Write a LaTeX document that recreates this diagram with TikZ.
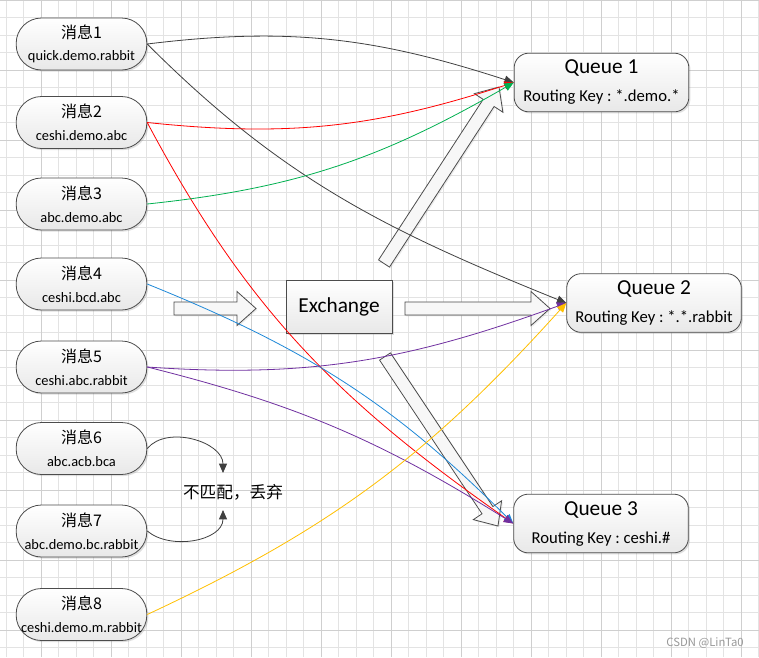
\documentclass[tikz,border=0pt]{standalone}
\usepackage{fontspec}
\setmainfont{Carlito}
\newfontfamily\cjk{Noto Sans CJK SC}
\usepackage{xcolor}
\usetikzlibrary{arrows.meta, positioning, calc, shadows}
\definecolor{linegray}{HTML}{404040}
\definecolor{linered}{HTML}{FF0000}
\definecolor{linegreen}{HTML}{00B050}
\definecolor{lineblue}{HTML}{1E88D8}
\definecolor{linepurple}{HTML}{7030A0}
\definecolor{lineorange}{HTML}{FFC000}
\definecolor{gridminor}{HTML}{E3E3E3}
\definecolor{gridmajor}{HTML}{CFCFCF}
\frenchspacing

\newcommand{\hollowarrow}[2]{%
    \coordinate (#1h) at ($(#2)!14.25pt!(#1)$);
    \draw[bigarrow] ($(#1)!4.9pt!90:(#2)$) -- ($(#1h)!4.9pt!-90:(#1)$)
        -- ($(#1h)!12.75pt!-90:(#1)$) -- (#2) -- ($(#1h)!12.75pt!90:(#1)$)
        -- ($(#1h)!4.9pt!90:(#1)$) -- ($(#1)!4.9pt!-90:(#2)$) -- cycle;}

\begin{document}
\begin{tikzpicture}[x=0.75pt, y=-0.75pt,
    msg/.style={rectangle, rounded corners=19pt, draw=black!70, line width=0.6pt,
        top color=white, bottom color=black!9, minimum width=98pt, minimum height=39pt,
        align=center, inner sep=0pt, font=\fontsize{10.8}{17}\selectfont,
        drop shadow={shadow xshift=1.2pt, shadow yshift=-1.2pt, opacity=0.25}},
    queue/.style={rectangle, rounded corners=11pt, draw=black!70, line width=0.6pt,
        top color=white, bottom color=black!9, minimum width=131pt, minimum height=44pt,
        align=center, inner sep=0pt, font=\fontsize{12.5}{21}\selectfont,
        drop shadow={shadow xshift=1.2pt, shadow yshift=-1.2pt, opacity=0.25}},
    exch/.style={rectangle, draw=black!70, line width=0.6pt, top color=white,
        bottom color=black!9, minimum width=79.5pt, minimum height=39.75pt,
        font=\fontsize{16}{19}\selectfont,
        drop shadow={shadow xshift=1.2pt, shadow yshift=-1.2pt, opacity=0.25}},
    conn/.style={line width=0.6pt, -{Triangle[length=7pt, width=6pt]}},
    bigarrow/.style={draw=black!70, fill=black!3, line width=0.6pt,
        drop shadow={shadow xshift=1pt, shadow yshift=-1pt, opacity=0.15}}]
    \fill[white] (0,0) rectangle (759,657);
    \useasboundingbox (0,0) rectangle (759,657);
    \foreach \k in {0,...,43}
        \draw[gridminor, line width=0.6pt] (6.3+17.5*\k,0) -- (6.3+17.5*\k,657);
    \foreach \k in {0,...,37}
        \draw[gridminor, line width=0.6pt] (0,17.5*\k) -- (759,17.5*\k);
    \foreach \k in {2,6,...,42}
        \draw[gridmajor, line width=0.6pt] (6.3+17.5*\k,0) -- (6.3+17.5*\k,657);
    \foreach \k in {0,4,...,36}
        \draw[gridmajor, line width=0.6pt] (0,17.5*\k) -- (759,17.5*\k);

    \foreach \i/\y/\key in {1/44/quick.demo.rabbit, 2/122.5/ceshi.demo.abc,
        3/204/abc.demo.abc, 4/284/ceshi.bcd.abc, 5/367/ceshi.abc.rabbit,
        6/448.5/abc.acb.bca, 7/531/abc.demo.bc.rabbit, 8/614.5/ceshi.demo.m.rabbit}
        \node[msg] (msg\i) at (81.5,\y) {{\cjk\fontsize{12}{17}\selectfont 消息\i}\\ \key};

    \node[queue] (q1) at (601.5,82.5) {{\fontsize{16}{21}\selectfont Queue 1}\\ Routing Key : *.demo.*};
    \node[queue] (q2) at (654,303) {{\fontsize{16}{21}\selectfont Queue 2}\\ Routing Key : *.*.rabbit};
    \node[queue] (q3) at (601,523.5) {{\fontsize{16}{21}\selectfont Queue 3}\\ Routing Key : ceshi.\#};
    \node[exch] (exchange) at (339,306.5) {Exchange};
    \node[font=\cjk\fontsize{12.5}{15}\selectfont] (discard) at (233,492) {不匹配，丢弃};
    \node[text=black!40, font=\cjk\fontsize{8.5}{10}\selectfont] (mark) at (705,643) {CSDN @LinTa0};

    \coordinate (drop6) at (223,473);
    \coordinate (drop7) at (223,510);
    \coordinate (xin) at (174,308.5);
    \coordinate (xinend) at (256,308.5);
    \coordinate (toqone) at (384,263.5);
    \coordinate (toqoneend) at (499,87);
    \coordinate (toqtwo) at (405,308.5);
    \coordinate (toqtwoend) at (550,308.5);
    \coordinate (toqthree) at (385,356.5);
    \coordinate (toqthreeend) at (498,526);
    \hollowarrow{xin}{xinend}
    \hollowarrow{toqone}{toqoneend}
    \hollowarrow{toqtwo}{toqtwoend}
    \hollowarrow{toqthree}{toqthreeend}

    \draw[conn, linegray] (msg1.east) to[out=7, in=162] (q1.west);
    \draw[conn, linegray] (msg1.east) to[out=-45, in=158] (q2.west);
    \draw[conn, linered] (msg2.east) to[out=-6, in=198] (q1.west);
    \draw[conn, linered] (msg2.east) to[out=-62, in=145] (q3.west);
    \draw[conn, linegreen] (msg3.east) to[out=6, in=210] (q1.west);
    \draw[conn, lineblue] (msg4.east) to[out=-22, in=135] (q3.west);
    \draw[conn, linepurple] (msg5.east) to[out=-4, in=200] (q2.west);
    \draw[conn, linepurple] (msg5.east) to[out=-14, in=148] (q3.west);
    \draw[conn, lineorange] (msg8.east) to[out=25, in=228] (q2.west);
    \draw[conn, linegray] (msg6.east) to[out=50, in=90] (drop6);
    \draw[conn, linegray] (msg7.east) to[out=-40, in=-90] (drop7);
\end{tikzpicture}
\end{document}
